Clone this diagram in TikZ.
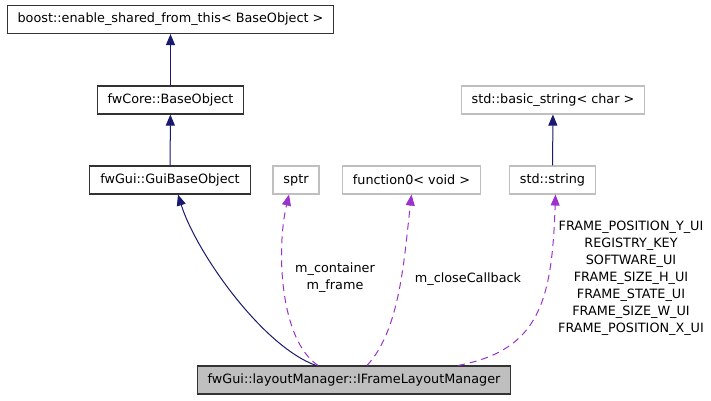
\documentclass[tikz,border=0pt]{standalone}
\usepackage{fontspec}
\setmainfont{DejaVu Sans}
\usetikzlibrary{arrows.meta}
\definecolor{inhblue}{HTML}{191970}
\definecolor{usepurple}{HTML}{9A32CD}
\definecolor{extgray}{HTML}{BFBFBF}

\begin{document}
\begin{tikzpicture}[x=1pt,y=-1pt,font=\fontsize{12.8}{17}\selectfont,
  cls/.style={draw=black!80,line width=1.1pt,minimum height=28pt,inner xsep=10.5pt},
  ext/.style={draw=extgray,line width=1.1pt,minimum height=28pt,inner xsep=10.5pt},
  inh/.style={draw=inhblue,line width=1pt,-{Triangle[length=11pt,width=9pt]}},
  use/.style={draw=usepurple,line width=1pt,dash pattern=on 7pt off 5pt,-{Triangle[length=11pt,width=9pt]}},
  lbl/.style={align=center,inner sep=0pt}]
\useasboundingbox (0,0) rectangle (711,400);
\node[cls] (esft) at (170.5,19.5) {boost::enable\_shared\_from\_this< BaseObject >};
\node[cls] (base) at (170.5,100) {fwCore::BaseObject};
\node[cls] (gbo) at (170,180) {fwGui::GuiBaseObject};
\node[ext] (sptr) at (296,180) {sptr};
\node[ext] (func) at (411.5,180) {function0< void >};
\node[ext] (str) at (552.5,180) {std::string};
\node[ext] (bstr) at (553,100) {std::basic\_string< char >};
\node[cls,fill=extgray] (ifm) at (354,380) {fwGui::layoutManager::IFrameLayoutManager};
% inheritance
\draw[inh] (base) -- (esft);
\draw[inh] (gbo) -- (base);
\draw[inh] (str) -- (bstr);
\draw[inh] ([xshift=-38pt]ifm.north) .. controls (262,346) and (196,252) .. ([xshift=8pt]gbo.south);
% usage
\draw[use] ([xshift=-36pt]ifm.north) .. controls (280,340) and (276,250) .. ([xshift=-7pt]sptr.south);
\draw[use] ([xshift=13pt]ifm.north) .. controls (400,330) and (404,260) .. (func.south);
\draw[use] ([xshift=104pt]ifm.north) .. controls (540,350) and (552,300) .. ([xshift=3pt]str.south);
\node[lbl] (lcont) at (335,278) {m\_container\\m\_frame};
\node[lbl] (lclose) at (468,279) {m\_closeCallback};
\node[lbl] (lstr) at (631,278) {FRAME\_POSITION\_Y\_UI\\REGISTRY\_KEY\\SOFTWARE\_UI\\FRAME\_SIZE\_H\_UI\\FRAME\_STATE\_UI\\FRAME\_SIZE\_W\_UI\\FRAME\_POSITION\_X\_UI};
\end{tikzpicture}
\end{document}
